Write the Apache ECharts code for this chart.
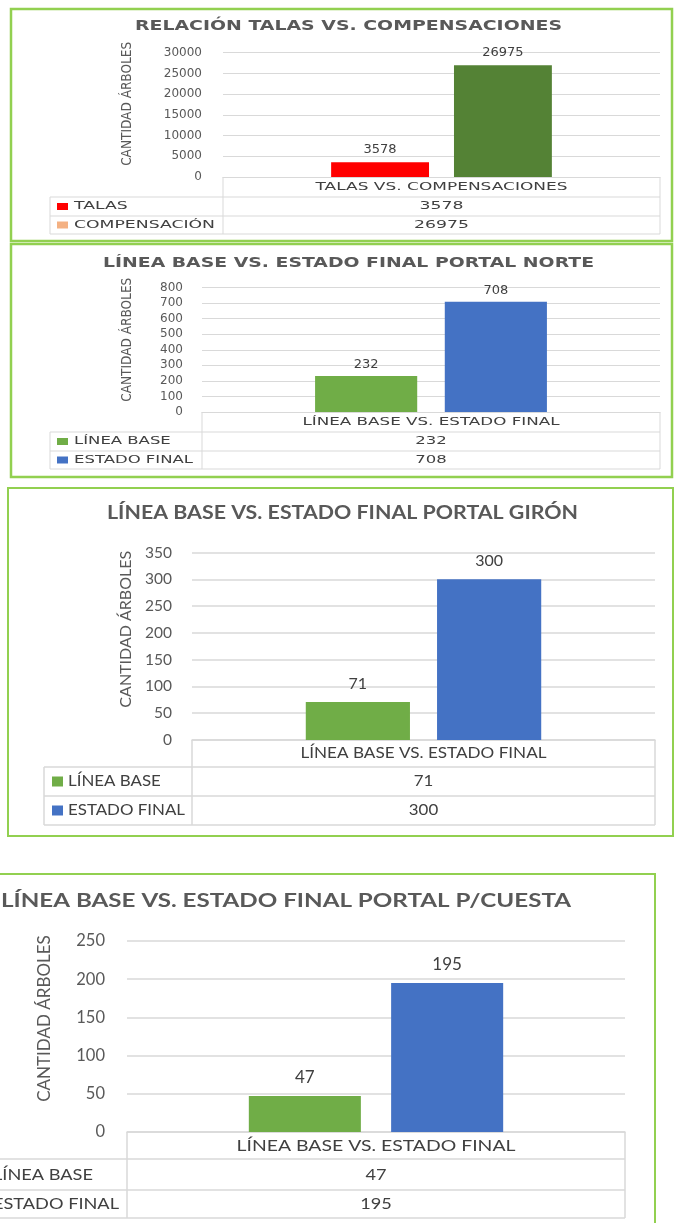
<!DOCTYPE html>
<html>
<head>
<meta charset="utf-8">
<script src="https://cdn.jsdelivr.net/npm/echarts@6/dist/echarts.min.js"></script>
<style>
  html, body { margin: 0; padding: 0; background: #ffffff; }
  #chart { width: 675px; height: 1223px; }
</style>
</head>
<body>
<div id="chart"></div>
<script>
// ---- Data ----
const chartTitles = [
  'RELACIÓN TALAS VS. COMPENSACIONES',
  'LÍNEA BASE VS. ESTADO FINAL PORTAL NORTE',
  'LÍNEA BASE VS. ESTADO FINAL PORTAL GIRÓN',
  'LÍNEA BASE VS. ESTADO FINAL PORTAL P/CUESTA'
];
const yAxisTitle = 'CANTIDAD ÁRBOLES';

const talasCategory = ['TALAS VS. COMPENSACIONES'];
const talasSeries = ['TALAS', 'COMPENSACIÓN'];
const talasValues = [3578, 26975];

const baseCategory = ['LÍNEA BASE VS. ESTADO FINAL'];
const baseSeries = ['LÍNEA BASE', 'ESTADO FINAL'];
const norteValues = [232, 708];
const gironValues = [71, 300];
const cuestaValues = [47, 195];

// value-axis ranges (ticks run 0..max by step)
const yMax = [30000, 800, 350, 250];
const yStep = [5000, 100, 50, 50];

// ---- Styles ----
const TEXT = '#595959';
const VALUE_TEXT = '#404040';
const GRID_LINE = '#D9D9D9';
const FRAME = '#92D050';
const WIDE = '"DejaVu Sans", sans-serif';
const NARROW = '"Liberation Sans Narrow", "DejaVu Sans Condensed", sans-serif';
const HUMAN = 'Lato, "Open Sans", sans-serif';

// ---- Layout of the four panels ----
const panels = [
  {
    category: talasCategory, names: talasSeries, values: talasValues,
    barColors: ['#FF0000', '#548235'], keyColors: ['#FF0000', '#F4B183'],
    frame: { x1: 11, y1: 9, x2: 672, y2: 241, w: 2.5 },
    grid: { left: 223, top: 52.7, right: 660, bottom: 177 },
    axisFont: { family: WIDE, size: 12 }, labelMargin: 21,
    nameFont: { family: NARROW, size: 13.5 }, nameCenterX: 128, nameShift: 11,
    title: { x: 348.5, y: 26, w: 427, font: 'bold 13.5px "DejaVu Sans"' },
    table: { left: 50, rows: [177, 197, 216, 234], lw: 1 },
    key: { x: 57, w: 11, h: 7 }, labelX: 74, labelRef: 1, labelRefW: 141,
    cellFont: '11px "DejaVu Sans"', headerW: 252,
    valueFont: { family: WIDE, size: 13 }, labelDist: 6,
    barWidth: '22.4%', barGap: '25.5%', gridW: 1
  },
  {
    category: baseCategory, names: baseSeries, values: norteValues,
    barColors: ['#70AD47', '#4472C4'], keyColors: ['#70AD47', '#4472C4'],
    frame: { x1: 11, y1: 244, x2: 672, y2: 477, w: 2.5 },
    grid: { left: 202, top: 287.5, right: 660, bottom: 412 },
    axisFont: { family: WIDE, size: 12 }, labelMargin: 19,
    nameFont: { family: NARROW, size: 13.5 }, nameCenterX: 128, nameShift: 10,
    title: { x: 348.5, y: 263, w: 491, font: 'bold 13.5px "DejaVu Sans"' },
    table: { left: 50, rows: [412, 432, 451, 469], lw: 1 },
    key: { x: 57, w: 11, h: 7 }, labelX: 74, labelRef: 1, labelRefW: 119,
    cellFont: '11px "DejaVu Sans"', headerW: 257,
    valueFont: { family: WIDE, size: 13 }, labelDist: 5,
    barWidth: '22.3%', barGap: '27%', gridW: 1
  },
  {
    category: baseCategory, names: baseSeries, values: gironValues,
    barColors: ['#70AD47', '#4472C4'], keyColors: ['#70AD47', '#4472C4'],
    frame: { x1: 8, y1: 488, x2: 673, y2: 836, w: 2 },
    grid: { left: 192, top: 552.5, right: 655, bottom: 740 },
    axisFont: { family: HUMAN, size: 15.5 }, labelMargin: 20,
    nameFont: { family: HUMAN, size: 16 }, nameCenterX: 127, nameShift: 17,
    title: { x: 342.5, y: 513, w: 471, font: 'bold 18px Lato' },
    table: { left: 44, rows: [740, 767, 796, 825], lw: 1.5 },
    key: { x: 52, w: 11, h: 10 }, labelX: 68, labelRef: 1, labelRefW: 117,
    cellFont: '14.5px Lato', headerW: 246,
    valueFont: { family: HUMAN, size: 16 }, labelDist: 10,
    barWidth: '22.5%', barGap: '26%', gridW: 1.5
  },
  {
    category: baseCategory, names: baseSeries, values: cuestaValues,
    barColors: ['#70AD47', '#4472C4'], keyColors: ['#70AD47', '#4472C4'],
    frame: { x1: -20, y1: 874, x2: 655, y2: 1240, w: 2 },
    grid: { left: 127, top: 941, right: 625, bottom: 1132 },
    axisFont: { family: HUMAN, size: 16.5 }, labelMargin: 22,
    nameFont: { family: HUMAN, size: 17 }, nameCenterX: 45, nameShift: 18,
    title: { x: 286, y: 901, w: 570, font: 'bold 19px Lato' },
    table: { left: -40, rows: [1132, 1159, 1190, 1218], lw: 1.5 },
    key: { x: -23, w: 11, h: 10 }, labelX: -7, labelRef: 1, labelRefW: 126,
    cellFont: '15.5px Lato', headerW: 279,
    valueFont: { family: HUMAN, size: 17 }, labelDist: 10.5,
    barWidth: '22.5%', barGap: '27%', gridW: 1.5
  }
];

// ---- Text fitting helpers ----
const measureCtx = document.createElement('canvas').getContext('2d');
function widthOf(text, font) {
  measureCtx.font = font;
  return measureCtx.measureText(text).width;
}
function stretchTo(text, font, target) {
  return target / widthOf(text, font);
}
function textEl(text, x, y, font, fill, align, scaleX) {
  return {
    type: 'text', x: x, y: y, scaleX: scaleX, scaleY: 1, silent: true, z: 10,
    style: {
      text: text, font: font, fill: fill,
      align: align, verticalAlign: 'middle',
      textAlign: align, textVerticalAlign: 'middle'
    }
  };
}
function lineEl(x1, y1, x2, y2, color, w) {
  return {
    type: 'line', silent: true, z: 5,
    shape: { x1: x1, y1: y1, x2: x2, y2: y2 },
    style: { stroke: color, lineWidth: w }
  };
}

// ---- Build option ----
const grids = [], xAxes = [], yAxes = [], series = [], graphics = [];

panels.forEach(function (p, i) {
  const g = p.grid;
  grids.push({
    left: g.left, top: g.top, width: g.right - g.left, height: g.bottom - g.top,
    containLabel: false, outerBoundsMode: 'none'
  });
  xAxes.push({
    gridIndex: i, type: 'category', data: p.category,
    axisLabel: { show: false }, axisTick: { show: false },
    axisLine: { show: true, lineStyle: { color: GRID_LINE, width: p.table.lw } }
  });
  yAxes.push({
    gridIndex: i, type: 'value', min: 0, max: yMax[i], interval: yStep[i],
    axisLine: { show: false }, axisTick: { show: false },
    axisLabel: {
      margin: p.labelMargin, color: TEXT, fontFamily: p.axisFont.family, fontSize: p.axisFont.size,
      formatter: function (v) { return String(v); }
    },
    splitLine: { lineStyle: { color: GRID_LINE, width: p.gridW } },
    name: yAxisTitle, nameLocation: 'middle', nameRotate: 90,
    nameGap: g.left - p.nameCenterX - p.nameFont.size / 2,
    // padding on the text's start side lifts the rotated title upwards
    nameTextStyle: {
      color: TEXT, fontFamily: p.nameFont.family, fontSize: p.nameFont.size,
      padding: [0, 0, 0, 2 * p.nameShift]
    }
  });
  p.names.forEach(function (name, k) {
    series.push({
      type: 'bar', name: name, xAxisIndex: i, yAxisIndex: i,
      data: [p.values[k]],
      barWidth: p.barWidth, barGap: p.barGap,
      itemStyle: { color: p.barColors[k] },
      label: {
        show: true, position: 'top', distance: p.labelDist,
        color: VALUE_TEXT, fontFamily: p.valueFont.family, fontSize: p.valueFont.size
      },
      silent: true, animation: false
    });
  });

  // frame
  const f = p.frame;
  graphics.push({
    type: 'rect', silent: true, z: 1,
    shape: { x: f.x1, y: f.y1, width: f.x2 - f.x1, height: f.y2 - f.y1 },
    style: { fill: 'none', stroke: FRAME, lineWidth: f.w }
  });

  // chart title
  const t = p.title;
  graphics.push(textEl(chartTitles[i], t.x, t.y, t.font, TEXT, 'center',
    stretchTo(chartTitles[i], t.font, t.w)));

  // data table under the axis
  const tb = p.table, r = tb.rows;
  const lw = tb.lw;
  graphics.push(lineEl(tb.left, r[1], g.right, r[1], GRID_LINE, lw));
  graphics.push(lineEl(tb.left, r[2], g.right, r[2], GRID_LINE, lw));
  graphics.push(lineEl(tb.left, r[3], g.right, r[3], GRID_LINE, lw));
  graphics.push(lineEl(g.left, r[0], g.left, r[3], GRID_LINE, lw));
  graphics.push(lineEl(g.right, r[0], g.right, r[3], GRID_LINE, lw));
  graphics.push(lineEl(tb.left, r[1], tb.left, r[3], GRID_LINE, lw));

  const midX = (g.left + g.right) / 2;
  graphics.push(textEl(p.category[0], midX, (r[0] + r[1]) / 2, p.cellFont, VALUE_TEXT, 'center',
    stretchTo(p.category[0], p.cellFont, p.headerW)));

  const cellScale = stretchTo(p.names[p.labelRef], p.cellFont, p.labelRefW);
  p.names.forEach(function (name, k) {
    const cy = (r[k + 1] + r[k + 2]) / 2;
    graphics.push({
      type: 'rect', silent: true, z: 10,
      shape: { x: p.key.x, y: cy - p.key.h / 2, width: p.key.w, height: p.key.h },
      style: { fill: p.keyColors[k] }
    });
    graphics.push(textEl(name, p.labelX, cy, p.cellFont, VALUE_TEXT, 'left', cellScale));
    graphics.push(textEl(String(p.values[k]), midX, cy, p.cellFont, VALUE_TEXT, 'center', cellScale));
  });
});

const chart = echarts.init(document.getElementById('chart'), null, { renderer: 'canvas' });
chart.setOption({
  backgroundColor: '#ffffff',
  animation: false,
  grid: grids,
  xAxis: xAxes,
  yAxis: yAxes,
  series: series,
  graphic: { elements: graphics }
});
</script>
</body>
</html>
